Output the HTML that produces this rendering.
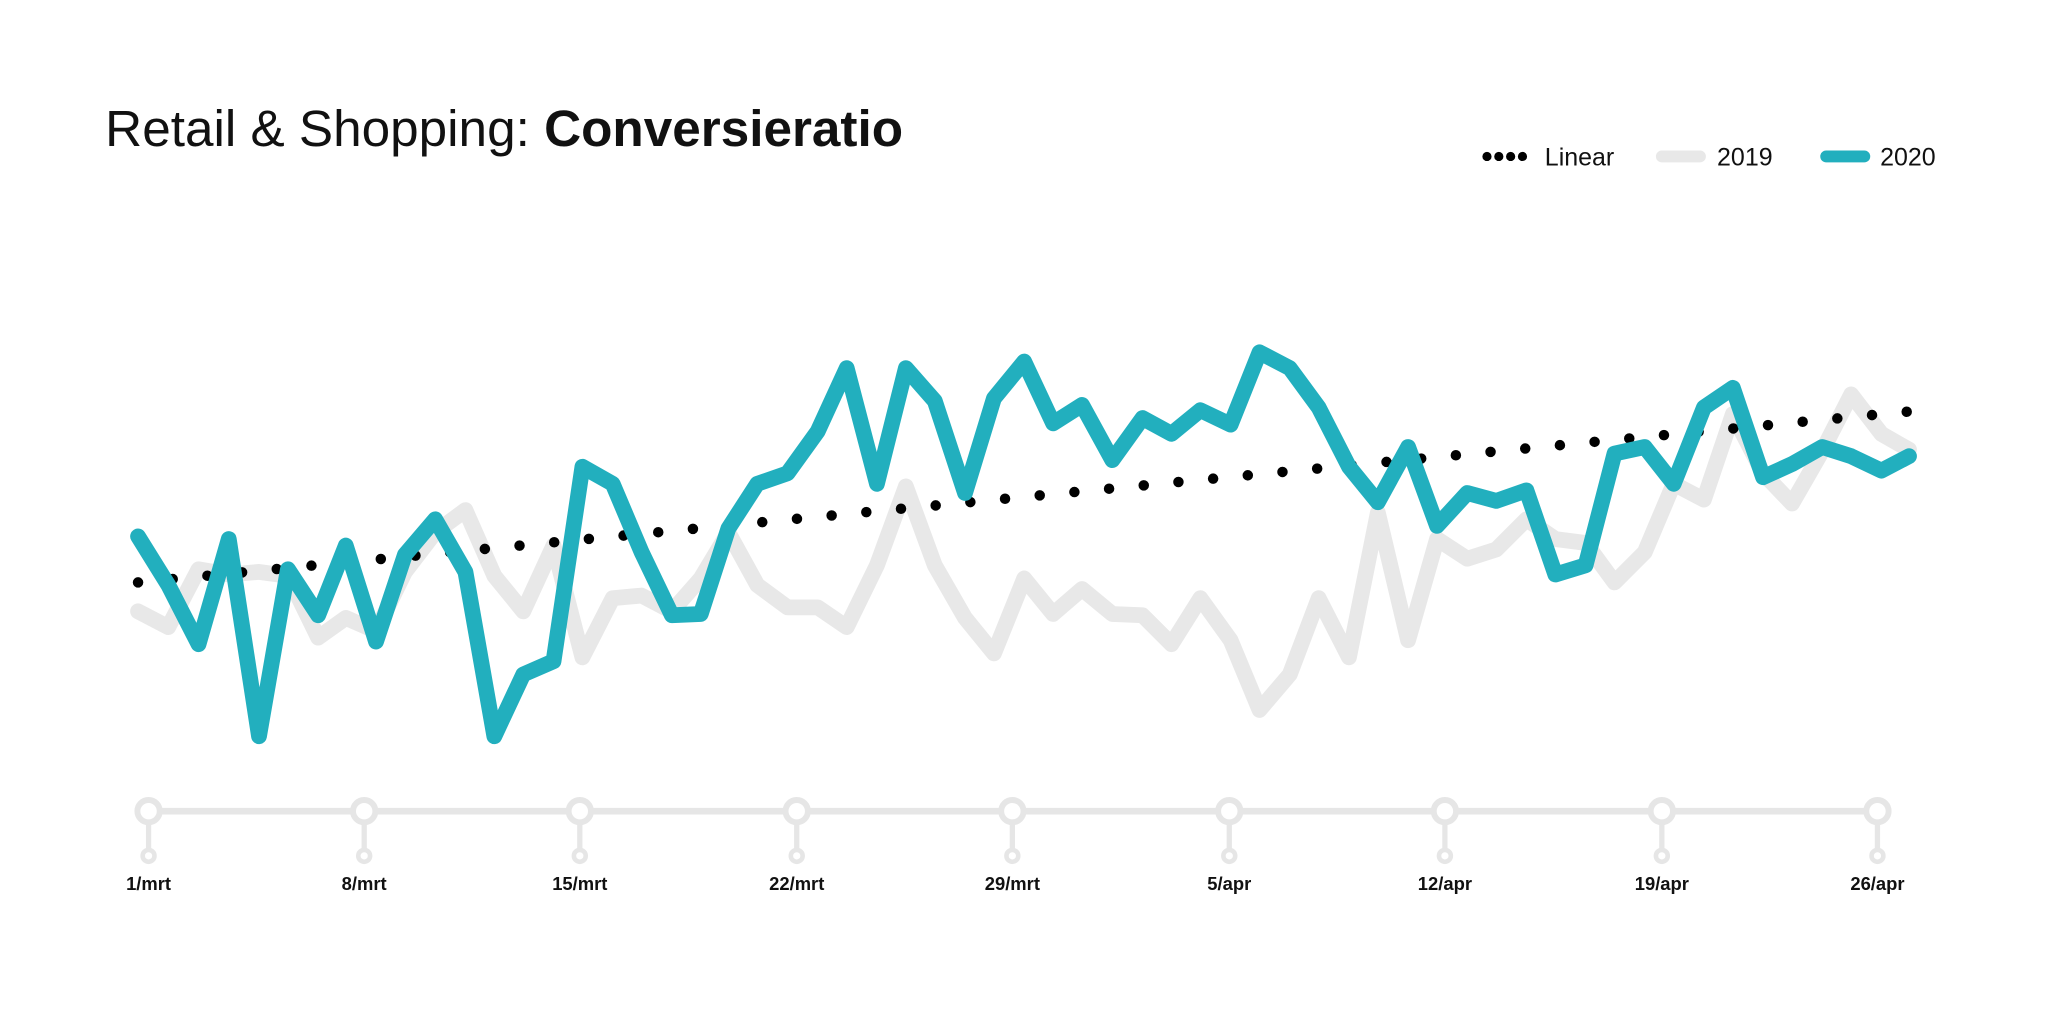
<!DOCTYPE html>
<html><head><meta charset="utf-8"><style>
html,body{margin:0;padding:0;background:#fff;}
svg{display:block;}
</style></head><body>
<svg width="2051" height="1011" viewBox="0 0 1560 769" preserveAspectRatio="none" xmlns="http://www.w3.org/2000/svg">
<text x="80" y="111" font-family="Liberation Sans, sans-serif" font-size="39" fill="#111"><tspan font-weight="300">Retail &amp; Shopping: </tspan><tspan font-weight="bold">Conversieratio</tspan></text>
<g font-family="Liberation Sans, sans-serif" font-size="19" fill="#111">
<line x1="1131" y1="119" x2="1160" y2="119" stroke="#000" stroke-width="7" stroke-linecap="round" stroke-dasharray="0 9"/>
<text x="1175" y="126">Linear</text>
<line x1="1264" y1="119" x2="1293" y2="119" stroke="#e8e8e8" stroke-width="9" stroke-linecap="round"/>
<text x="1306" y="126">2019</text>
<line x1="1389" y1="119" x2="1418" y2="119" stroke="#22afbe" stroke-width="9" stroke-linecap="round"/>
<text x="1430" y="126">2020</text>
</g>
<polyline fill="none" stroke="#e8e8e8" stroke-width="12" stroke-linejoin="round" stroke-linecap="round" points="105,465 128,477 151,433 174,437 197,435 219,438 242,485 263,470 286,480 308,435 331,405 354,388 376,438 398,465 421,415 443,500 466,455 488,453 511,465 533,440 554,405 576,445 599,462 622,462 644,477 667,430 689,370 711,430 734,470 756,497 779,440 801,467 823,448 846,467 869,468 891,490 913,455 936,487 958,540 981,513 1003,455 1026,500 1048,390 1071,487 1093,410 1116,425 1138,418 1161,395 1183,410 1206,413 1228,443 1251,420 1273,368 1296,380 1318,315 1341,360 1363,383 1386,343 1408,300 1431,330 1452,342"/>
<line x1="105" y1="443" x2="1452" y2="313" stroke="#000" stroke-width="8" stroke-linecap="round" stroke-dasharray="0 26.5"/>
<polyline fill="none" stroke="#22afbe" stroke-width="12" stroke-linejoin="round" stroke-linecap="round" points="105,408 128,445 151,490 174,410 197,560 219,433 242,468 263,415 286,488 308,422 331,395 354,435 376,560 398,513 421,503 443,355 466,368 488,420 511,468 533,467 554,402 576,368 599,360 622,328 644,280 667,368 689,280 711,305 734,375 756,303 779,275 801,322 823,308 846,350 869,318 891,330 913,312 936,323 958,268 981,280 1003,310 1026,355 1048,382 1071,340 1093,400 1116,375 1138,381 1161,373 1183,437 1206,430 1228,345 1251,340 1273,368 1296,310 1318,295 1341,363 1363,353 1386,340 1408,347 1431,358 1452,347"/>
<g stroke="#e6e6e6" fill="#fff">
<line x1="113" y1="617" x2="1428" y2="617" stroke-width="5"/>
<g stroke-width="4">
<line x1="113" y1="617" x2="113" y2="650"/><line x1="277" y1="617" x2="277" y2="650"/><line x1="441" y1="617" x2="441" y2="650"/><line x1="606" y1="617" x2="606" y2="650"/><line x1="770" y1="617" x2="770" y2="650"/><line x1="935" y1="617" x2="935" y2="650"/><line x1="1099" y1="617" x2="1099" y2="650"/><line x1="1264" y1="617" x2="1264" y2="650"/><line x1="1428" y1="617" x2="1428" y2="650"/>
</g>
<g stroke-width="4.5">
<circle cx="113" cy="617" r="8.5"/><circle cx="277" cy="617" r="8.5"/><circle cx="441" cy="617" r="8.5"/><circle cx="606" cy="617" r="8.5"/><circle cx="770" cy="617" r="8.5"/><circle cx="935" cy="617" r="8.5"/><circle cx="1099" cy="617" r="8.5"/><circle cx="1264" cy="617" r="8.5"/><circle cx="1428" cy="617" r="8.5"/>
</g>
<g stroke-width="3.5">
<circle cx="113" cy="651" r="4.5"/><circle cx="277" cy="651" r="4.5"/><circle cx="441" cy="651" r="4.5"/><circle cx="606" cy="651" r="4.5"/><circle cx="770" cy="651" r="4.5"/><circle cx="935" cy="651" r="4.5"/><circle cx="1099" cy="651" r="4.5"/><circle cx="1264" cy="651" r="4.5"/><circle cx="1428" cy="651" r="4.5"/>
</g>
</g>
<g font-family="Liberation Sans, sans-serif" font-size="14" font-weight="bold" fill="#111" text-anchor="middle">
<text x="113" y="677">1/mrt</text><text x="277" y="677">8/mrt</text><text x="441" y="677">15/mrt</text><text x="606" y="677">22/mrt</text><text x="770" y="677">29/mrt</text><text x="935" y="677">5/apr</text><text x="1099" y="677">12/apr</text><text x="1264" y="677">19/apr</text><text x="1428" y="677">26/apr</text>
</g>
</svg>
</body></html>
